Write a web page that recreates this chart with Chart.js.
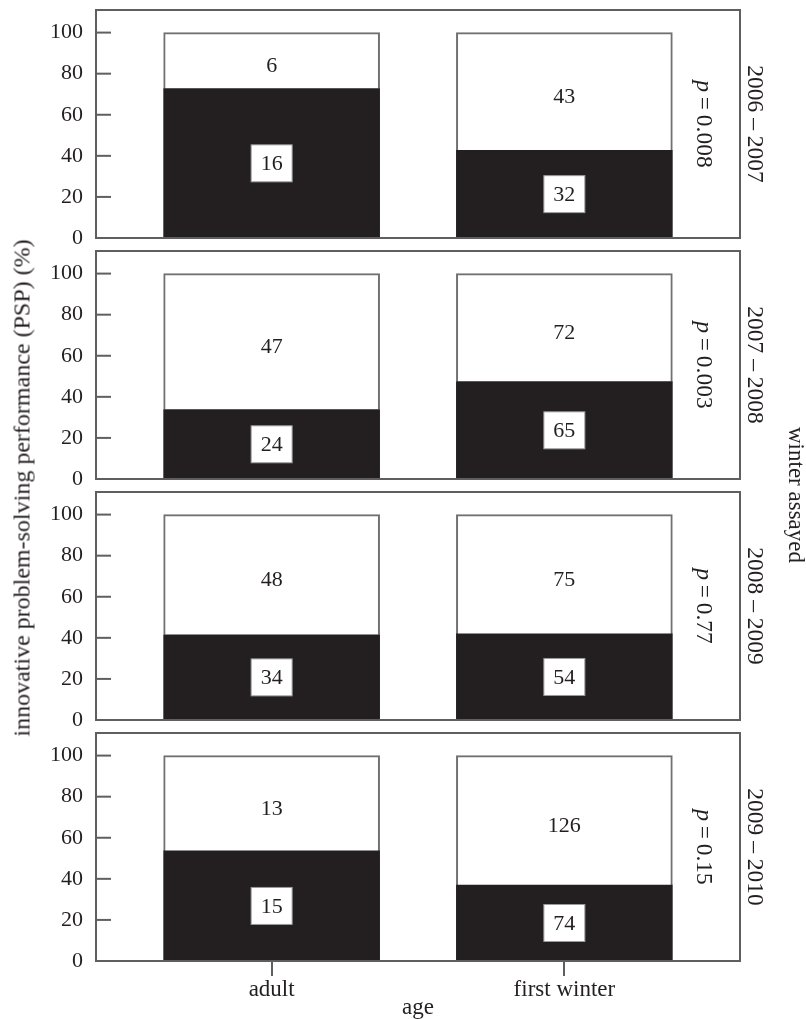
<!DOCTYPE html>
<html>
<head>
<meta charset="utf-8">
<script src="https://cdn.jsdelivr.net/npm/chart.js@4.4.1/dist/chart.umd.min.js"></script>
<style>
  body { margin: 0; background: #fff; }
  #wrap { position: relative; width: 806px; height: 1019px; overflow: hidden; }
  canvas { position: absolute; left: 0; }
  .vlab { position: absolute; white-space: nowrap; font-family: "Liberation Serif", serif; color: #231f20; }
  #ytitle { left: 22px; top: 488px; font-size: 24px; transform: translate(-50%, -50%) rotate(-90deg); }
  #rtitle { left: 796px; top: 495px; font-size: 23px; transform: translate(-50%, -50%) rotate(90deg); }
</style>
</head>
<body>
<div id="wrap">
  <canvas id="p0" width="806" height="270" style="top:0px"></canvas>
  <canvas id="p1" width="806" height="270" style="top:241px"></canvas>
  <canvas id="p2" width="806" height="270" style="top:482px"></canvas>
  <canvas id="p3" width="806" height="296" style="top:723px"></canvas>
  <div id="ytitle" class="vlab">innovative problem-solving performance (PSP) (%)</div>
  <div id="rtitle" class="vlab">winter assayed</div>
</div>
<script>
// datos
const ageGroups = ["adult", "first winter"];
const agePositions = [0, 1];
const winters = ["2006 – 2007", "2007 – 2008", "2008 – 2009", "2009 – 2010"];
const pValues = ["0.008", "0.003", "0.77", "0.15"];
const solvedPct = [[72.7, 42.7], [33.8, 47.4], [41.5, 41.9], [53.6, 37.0]];
const notSolvedPct = [[27.3, 57.3], [66.2, 52.6], [58.5, 58.1], [46.4, 63.0]];
const solvedN = [[16, 32], [24, 65], [34, 54], [15, 74]];
const notSolvedN = [[6, 43], [47, 72], [48, 75], [13, 126]];
const yTicks = [0, 20, 40, 60, 80, 100];

const FONT = '"Liberation Serif", serif';
const INK = "#231f20";
const GRAY = "#5f5f5f";

const panelText = {
  id: "panelText",
  afterDatasetsDraw(chart) {
    const i = chart.options.plugins.panelText.index;
    const ctx = chart.ctx;
    const black = chart.getDatasetMeta(0).data;
    const white = chart.getDatasetMeta(1).data;
    ctx.save();
    ctx.font = "22px " + FONT;
    ctx.textAlign = "center";
    ctx.textBaseline = "middle";
    black.forEach((bar, j) => {
      const c = bar.getCenterPoint();
      const txt = String(solvedN[i][j]);
      const w = ctx.measureText(txt).width + 19;
      const h = 37;
      ctx.fillStyle = "#fff";
      ctx.fillRect(c.x - w / 2, c.y - h / 2, w, h);
      ctx.strokeStyle = "#9a9a9a";
      ctx.lineWidth = 1;
      ctx.strokeRect(c.x - w / 2, c.y - h / 2, w, h);
      ctx.fillStyle = INK;
      ctx.fillText(txt, c.x, c.y + 1);
    });
    white.forEach((bar, j) => {
      const c = bar.getCenterPoint();
      ctx.fillStyle = INK;
      ctx.fillText(String(notSolvedN[i][j]), c.x, c.y + 6);
    });
    ctx.restore();
  },
  afterDraw(chart) {
    const i = chart.options.plugins.panelText.index;
    const { ctx, chartArea: a, scales: { y } } = chart;
    ctx.save();
    // marco
    ctx.strokeStyle = GRAY;
    ctx.lineWidth = 2;
    ctx.strokeRect(a.left, a.top, a.right - a.left, a.bottom - a.top);
    // ticks hacia dentro
    y.ticks.forEach(t => {
      const py = y.getPixelForValue(t.value);
      ctx.beginPath();
      ctx.moveTo(a.left, py);
      ctx.lineTo(a.left + 15, py);
      ctx.stroke();
    });
    // p y año, girados
    const cy = (a.top + a.bottom) / 2;
    ctx.fillStyle = INK;
    ctx.textBaseline = "middle";
    ctx.textAlign = "left";
    ctx.save();
    ctx.translate(703, cy);
    ctx.rotate(Math.PI / 2);
    ctx.font = "italic 23.5px " + FONT;
    const wp = ctx.measureText("p").width;
    ctx.font = "23.5px " + FONT;
    const rest = "\u2009=\u2009" + pValues[i];
    const wr = ctx.measureText(rest).width;
    const x0 = -(wp + wr) / 2;
    ctx.font = "italic 23.5px " + FONT;
    ctx.fillText("p", x0, 0);
    ctx.font = "23.5px " + FONT;
    ctx.fillText(rest, x0 + wp, 0);
    ctx.restore();
    ctx.save();
    ctx.translate(754, cy);
    ctx.rotate(Math.PI / 2);
    ctx.font = "23.5px " + FONT;
    ctx.textAlign = "center";
    ctx.fillText(winters[i], 0, 0);
    ctx.restore();
    ctx.restore();
  }
};

function crearPanel(i) {
  const last = i === 3;
  const el = document.getElementById("p" + i);
  new Chart(el, {
    type: "bar",
    data: {
      datasets: [
        {
          label: "solved",
          data: agePositions.map((x, j) => ({ x, y: solvedPct[i][j] })),
          backgroundColor: "#231f20",
          borderWidth: 0,
          barThickness: 216
        },
        {
          label: "not solved",
          data: agePositions.map((x, j) => ({ x, y: notSolvedPct[i][j] })),
          backgroundColor: "#fff",
          borderColor: "#707070",
          borderWidth: 2,
          borderSkipped: "bottom",
          barThickness: 216
        }
      ]
    },
    options: {
      responsive: false,
      animation: false,
      layout: { padding: { left: 0, right: 66, top: 10, bottom: last ? 0 : 32 } },
      plugins: {
        legend: { display: false },
        tooltip: { enabled: false },
        panelText: { index: i }
      },
      scales: {
        x: {
          type: "linear",
          stacked: true,
          offset: false,
          min: -0.6,
          max: 1.6,
          display: last,
          afterBuildTicks: s => { s.ticks = agePositions.map(v => ({ value: v })); },
          afterFit: s => {
            if (last) s.height = 58;
            s.paddingLeft = 0;
            s.paddingRight = 0;
          },
          border: { display: false },
          grid: { offset: false, drawOnChartArea: false, drawTicks: true, tickLength: 15, color: GRAY, lineWidth: 2 },
          ticks: {
            padding: 0,
            maxRotation: 0,
            autoSkip: false,
            color: INK,
            font: { family: FONT, size: 23 },
            callback: v => ageGroups[agePositions.indexOf(v)]
          },
          title: {
            display: last,
            text: "age",
            color: INK,
            font: { family: FONT, size: 23, lineHeight: 1 },
            padding: { top: 0, bottom: 0 }
          }
        },
        y: {
          stacked: true,
          min: 0,
          max: 111,
          afterBuildTicks: s => { s.ticks = yTicks.map(v => ({ value: v })); },
          afterFit: s => {
            s.width = 96;
            s.paddingTop = 0;
            s.paddingBottom = 0;
          },
          border: { display: false },
          grid: { display: false, drawTicks: false },
          ticks: {
            padding: 13,
            color: INK,
            font: { family: FONT, size: 22 }
          }
        }
      }
    },
    plugins: [panelText]
  });
}

// INICIAR
[0, 1, 2, 3].forEach(crearPanel);
</script>
</body>
</html>
